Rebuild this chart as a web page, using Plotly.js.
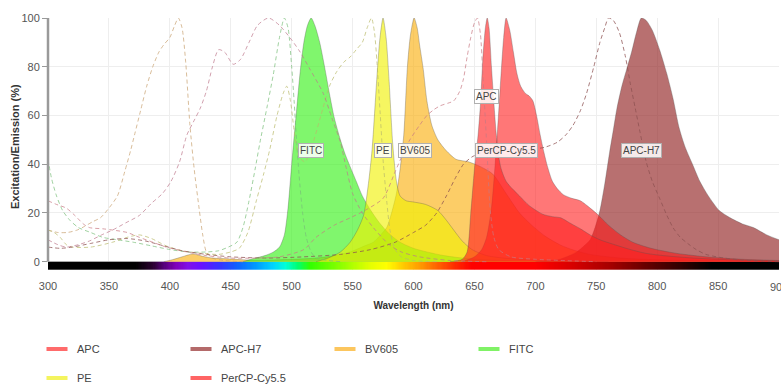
<!DOCTYPE html>
<html><head><meta charset="utf-8">
<script src="https://cdn.plot.ly/plotly-3.0.1.min.js"></script>
<style>html,body{margin:0;padding:0;background:#fff}#chart{width:781px;height:385px}</style>
</head><body><div id="chart"></div>
<script>
// ---- data (wavelength nm, % intensity) ----
const dyes = ['APC','APC-H7','BV605','FITC','PE','PerCP-Cy5.5'];
const xTicks = [300,350,400,450,500,550,600,650,700,750,800,850,900];
const yTicks = [0,20,40,60,80,100];

const fitcEm = [[460,0],[468,1.2],[478,2.5],[485,4],[490,6],[494,11],[497,22],[500,40],[504,62],[507,78],[510,90],[513,97],[516,100],[519,97],[523,90],[527,80],[531,69],[535,59],[540,50],[544,44],[548,39],[553,33],[558,27],[565,21],[572,16],[580,11.5],[589,8],[600,5.5],[611,4],[625,2.5],[640,1.5],[660,0.8],[700,0.3],[750,0]];
const peEm = [[520,0],[530,1.5],[540,4],[548,8],[554,13],[559,19],[563,32],[566,46],[570,76],[572.5,92],[575,100],[577.5,92],[580,74],[583,48],[586,33],[589,27],[594,25],[600,24.5],[610,23.5],[620,21],[627,17],[633,13],[640,8.5],[648,5],[660,2.5],[680,1.2],[720,0.4],[760,0]];
const bv605Em = [[395,0],[402,0.8],[410,2],[419,3.2],[427,2.2],[435,1.5],[447,1.2],[468,0.6],[490,0.8],[520,1.5],[535,2.5],[548,4],[560,6.5],[567,8],[573,11],[578,14],[582,20],[586,28],[589,38],[592,52],[595,80],[597.5,93],[600.5,100],[603,96],[605,89],[608,79],[611,66],[615,56],[620,50],[627,45.5],[635,42],[645,41],[655,39],[665,36],[676,28],[687,20],[697,15],[708,10.5],[720,7],[730,5],[745,3],[770,1.5],[800,0.8],[850,0.3],[900,0]];
const apcEm = [[630,0],[640,1],[644,4],[647,20],[650,38],[653,52],[655,65],[657,84],[659,96],[660.5,100],[662,96],[664,80],[666,65],[668,52],[670,43],[672,38],[676,33],[681,30],[687,27],[695,23],[706,19.5],[714,18.5],[721,18],[728,16],[737,13.5],[745,11],[753,9],[765,7],[778,5],[790,3.5],[805,2.5],[830,1.5],[860,0.8],[900,0.3]];
const percpEm = [[640,0],[650,2],[656,5],[660,10],[664,22],[667,40],[670,62],[672,78],[674,92],[676,100],[679,95],[682,86],[685,77],[688,72],[692,69],[695,68],[698,66],[701,60],[704,52],[707,45],[710,39],[714,33],[718,30],[723,27.5],[730,26],[737,25],[745,22],[752,19],[760,15],[770,11],[780,8],[795,5.5],[815,3.5],[840,2],[870,1],[900,0.5]];
const apch7Em = [[700,0],[712,0.5],[720,1],[728,2.5],[734,4],[740,6.5],[745,9],[749,14],[753,21],[757,32],[761,45],[764,54],[767,63],[771,72],[775,79],[779,86],[783,94],[787,100],[791,99],[796,95],[802,87],[808,77],[813,67],[818,55],[823,47],[829,40],[835,33],[842,27],[851,21],[860,18],[870,15.5],[879,14],[890,11],[900,9]];

const fitcEx = [[300,42],[303,34],[307,27],[312,21],[318,17],[325,14],[335,12],[345,10],[357,9],[370,8],[385,6.5],[400,5],[415,4],[430,4],[440,4.5],[448,6],[455,8],[460,14],[465,25],[470,38],[474,49],[480,64],[485,77],[490,92],[494,100],[497,96],[500,80],[502,66],[504,50],[506,36],[509,20],[512,10],[516,4],[520,1.5],[530,0.5],[540,0]];
const peEx = [[300,13],[305,12],[310,10],[315,7],[320,6],[335,6],[353,8],[365,10],[375,11],[385,9.5],[397,6.5],[410,4.5],[425,3.5],[440,3],[450,4],[457,5.5],[464,12],[471,25],[477,36],[482,46],[488,60],[493,69],[496,72],[499,66],[502,54],[506,43],[511,41],[517,48],[524,60],[531,72],[537,78],[543,82],[548,84],[553,87],[558,90],[562,96],[565.5,100],[568,94],[570,82],[572.5,62],[575,42],[578,25],[581,12],[585,5],[590,2],[600,0.5],[620,0]];
const bv605Ex = [[300,13],[308,12],[316,12],[324,13],[330,14.5],[337,16.5],[343,18],[350,22],[357,27],[363,37],[368,46],[371,52],[376,62],[381,72],[386,80],[391,86],[395,89],[400,92],[404,97],[407,100],[410,96],[413,82],[416.5,56],[420,38],[424,22],[427,11],[430,4],[435,1.5],[445,0.5],[460,0]];
const percpEx = [[300,9],[308,7],[315,6],[325,7],[334,8.5],[344,11],[353,13],[364,16],[375,19],[385,24],[394,28],[401,33],[408,41],[414,52],[420,58],[425,63],[430,70],[435,80],[440,87],[445,86],[452,81],[458,83],[465,90],[472,97],[481,100],[490,97],[500,91],[507,86],[515,79],[526,69],[533,59],[540,49],[545,38],[550,28],[558,20],[567,14],[580,7],[590,4],[605,2],[630,0.5],[660,0]];
const apcEx = [[300,25],[307,23.5],[315,22],[322,19],[329,15.5],[334,14],[345,13.5],[353,13],[365,12],[375,10],[386,8],[397,6],[414,4],[430,2.5],[450,1.5],[470,1.5],[490,2],[510,5],[520,10],[535,15],[548,18],[560,21],[575,26],[585,37],[592,45],[597,50],[605,56],[611,60],[617,62.5],[622,64],[628,65],[633,66],[638,70],[641,75],[644,84],[647,92],[650,98],[652.5,100],[655,93],[657,76],[660,49],[663,21],[666,10],[670,5],[680,2],[700,1],[750,0]];
const apch7Ex = [[300,6],[310,5.5],[320,6],[335,7.5],[350,9],[365,9.5],[380,8.5],[395,6.5],[410,4.5],[430,3],[450,2],[480,1.5],[510,2],[540,3],[565,5],[585,8],[600,12],[610,15],[619,20],[627,27],[634,34],[641,40],[648,43],[655,44.5],[665,45.5],[680,46],[695,46],[708,47],[718,49],[725,52],[731,56],[737,62],[742,69],[748,80],[753,90],[757,96],[760,100],[764,99],[769,94],[774,84],[778,73],[782,63],[786,53],[791,41],[796,33],[802,26],[808,19],[813,14],[819,10],[825,7.5],[832,5],[840,3],[855,1.5],[875,0.5],[900,0]];

// label anchor wavelengths (emission peaks)
const labelPeaks = {'FITC':516,'PE':575,'BV605':601,'PerCP-Cy5.5':676,'APC':660,'APC-H7':787};

// visible spectrum colour stops for the wavelength bar
const spectrumStops = [[300,'#000000'],[372,'#000000'],[386,'#2a0030'],[396,'#5a0080'],[405,'#8000b8'],[415,'#8010e8'],[425,'#6a10ff'],[440,'#3a30ff'],[455,'#1060ff'],[470,'#0098ff'],[485,'#00d4ff'],[495,'#00ffd8'],[505,'#00ff70'],[515,'#30ff00'],[535,'#78ff00'],[552,'#b8ff00'],[566,'#e8ff00'],[578,'#ffff00'],[590,'#ffd000'],[605,'#ff9c00'],[620,'#ff6000'],[635,'#ff2800'],[648,'#ff0000'],[700,'#ff0000'],[730,'#d80000'],[760,'#a80000'],[790,'#680000'],[820,'#300000'],[845,'#000000'],[900,'#000000']];

// ---- styling ----
const fillColors = {'APC':'rgba(255,30,30,0.62)','APC-H7':'rgba(140,25,25,0.62)','BV605':'rgba(250,175,10,0.62)','FITC':'rgba(50,240,20,0.62)','PE':'rgba(240,240,0,0.62)','PerCP-Cy5.5':'rgba(255,20,20,0.58)'};
const legendColors = {'APC':'#ff6b6b','APC-H7':'#b46a6a','BV605':'#fcc65e','FITC':'#80f266','PE':'#f4f45e','PerCP-Cy5.5':'#ff6464'};
const exColors = {'APC':'rgba(200,120,130,0.7)','APC-H7':'rgba(140,80,80,0.75)','BV605':'rgba(200,160,110,0.7)','FITC':'rgba(120,190,120,0.7)','PE':'rgba(185,185,105,0.7)','PerCP-Cy5.5':'rgba(190,120,140,0.7)'};

const emission = {'BV605':bv605Em,'FITC':fitcEm,'PE':peEm,'APC-H7':apch7Em,'PerCP-Cy5.5':percpEm,'APC':apcEm};
const excitation = {'BV605':bv605Ex,'FITC':fitcEx,'PE':peEx,'APC-H7':apch7Ex,'PerCP-Cy5.5':percpEx,'APC':apcEx};
const drawOrder = ['BV605','FITC','PE','APC-H7','PerCP-Cy5.5','APC'];

const traces = [];
// wavelength colour bar
const barX = [];
for (let w = 300; w <= 900; w++) barX.push(w);
traces.push({
  type:'heatmap', x0:300, dx:1, y0:-1.7, dy:3.4, z:[barX],
  zmin:300, zmax:900, showscale:false, hoverinfo:'skip',
  colorscale: spectrumStops.map(s => [(s[0]-300)/600, s[1]])
});
drawOrder.forEach(d => {
  const e = emission[d];
  traces.push({type:'scatter', mode:'lines', name:d, showlegend:false,
    x:e.map(p=>p[0]), y:e.map(p=>p[1]), fill:'tozeroy', fillcolor:fillColors[d],
    line:{color:'rgba(80,80,80,0.45)', width:0.7, shape:'spline', smoothing:0.7}, hoverinfo:'skip'});
});
drawOrder.forEach(d => {
  const e = excitation[d];
  traces.push({type:'scatter', mode:'lines', name:d+' ex', showlegend:false,
    x:e.map(p=>p[0]), y:e.map(p=>p[1]),
    line:{color:exColors[d], width:1, dash:'4px,3px', shape:'spline', smoothing:0.7}, hoverinfo:'skip'});
});
// legend entries
dyes.forEach((d,i) => {
  traces.push({type:'scatter', mode:'markers', name:d, x:[null], y:[null],
    legend: i < 4 ? 'legend' : 'legend2',
    marker:{symbol:'line-ew', size:15, color:legendColors[d], line:{color:legendColors[d], width:4}}});
});

const regular = 'Liberation Sans, Arial, sans-serif';
const annotations = Object.keys(labelPeaks).map(k => ({
  x: labelPeaks[k], y: k === 'APC' ? 67.6 : 45.8, xref:'x', yref:'y', text:k, showarrow:false,
  font:{family:regular, size:10, color:'#444'}, bgcolor:'rgba(255,255,255,0.85)',
  bordercolor:'#b0b0b0', borderwidth:1, borderpad:1
}));
// last tick label, partly cut by the right edge as in the original
annotations.push({x:900, xref:'x', y:0, yref:'paper', yanchor:'top', yshift:-9, text:String(xTicks[xTicks.length-1]),
  showarrow:false, font:{family:regular, size:11, color:'#555'}});
// y-axis title
annotations.push({x:-33/731, xref:'paper', y:0.488, yref:'paper', xanchor:'center', yanchor:'middle',
  textangle:-90, text:'Excitation/Emission (%)', showarrow:false,
  font:{family:regular, size:11, weight:'bold', color:'#333'}});

const legendCommon = {orientation:'h', xref:'container', yref:'container', x:37/781, xanchor:'left',
  yanchor:'middle', entrywidth:99, entrywidthmode:'pixels', font:{family:regular, size:11, color:'#444'},
  bgcolor:'rgba(0,0,0,0)', itemclick:false};

const layout = {
  width:781, height:385, margin:{l:48, r:2, t:18, b:115},
  paper_bgcolor:'#fff', plot_bgcolor:'#fff',
  font:{family:regular, size:11, color:'#555'},
  xaxis:{range:[300,900], tickvals:xTicks, ticktext:xTicks.map(String), showgrid:true, gridcolor:'#eeeeee',
    zeroline:false, showline:false, ticks:'', ticklabelstandoff:8,
    tickfont:{family:regular, size:11, color:'#555'},
    title:{text:'Wavelength (nm)', font:{family:regular, size:10, weight:'bold', color:'#333'}, standoff:10}},
  yaxis:{range:[-3.4,100], tickvals:yTicks, showgrid:true, gridcolor:'#eeeeee', zeroline:false, showline:false,
    ticks:'outside', ticklen:5, tickcolor:'#999', tickwidth:1,
    tickfont:{family:regular, size:11, color:'#555'}},
  shapes:[{type:'line', xref:'paper', yref:'y', x0:0, x1:0, y0:0, y1:100, line:{color:'#9a9a9a', width:2.5}}],
  annotations: annotations,
  legend: Object.assign({}, legendCommon, {y:1-349/385}),
  legend2: Object.assign({}, legendCommon, {y:1-378/385}),
  showlegend:true
};

Plotly.newPlot('chart', traces, layout, {staticPlot:true, displayModeBar:false});
</script></body></html>
